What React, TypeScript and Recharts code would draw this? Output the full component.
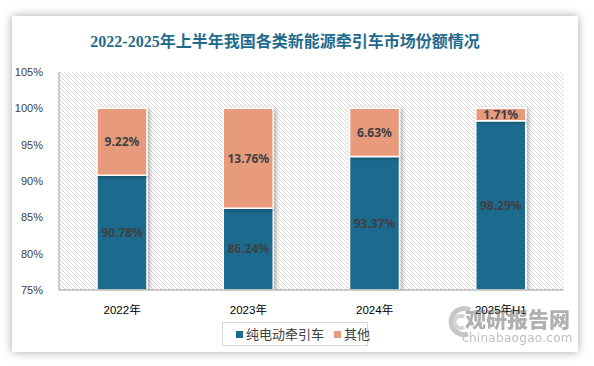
import React from 'react';
import { BarChart, Bar, XAxis, YAxis, CartesianGrid, LabelList } from 'recharts';

const categories = ['2022年', '2023年', '2024年', '2025年H1'];
const electricShare = [90.78, 86.24, 93.37, 98.29];
const otherShare = [9.22, 13.76, 6.63, 1.71];
const yTicks = [75, 80, 85, 90, 95, 100, 105];
const boundaryTicks = [0, 1, 2, 3, 4];
const seriesNames = ['纯电动牵引车', '其他'];
const seriesColors = ['#1c6b8e', '#e89b7b'];
const titleText = '2022-2025年上半年我国各类新能源牵引车市场份额情况';

const data = categories.map((c, i) => ({
  name: c,
  electric: electricShare[i],
  other: otherShare[i],
}));

const fmt = (v: any) => `${Number(v).toFixed(2)}%`;

const labelStyle = {
  fill: '#404040',
  fontSize: 12,
  fontWeight: 700,
  fontFamily: '"Noto Sans", sans-serif',
};

export default function App() {
  return (
    <div style={{ position: 'absolute', left: 0, top: 0, width: 594, height: 366, background: '#fff', overflow: 'hidden' }}>
      <svg width={0} height={0} style={{ position: 'absolute' }}>
        <defs>
          <pattern id="hatch" patternUnits="userSpaceOnUse" width={4} height={4}>
            <rect width={4} height={4} fill="#ffffff" />
            <path d="M-1,-1 L5,5 M3,-1 L5,1 M-1,3 L1,5" stroke="#d4d4d4" strokeWidth={0.9} />
          </pattern>
          <filter id="barShadow" x="-20%" y="-20%" width="150%" height="150%">
            <feDropShadow dx={2} dy={1} stdDeviation={2} floodColor="#000" floodOpacity={0.3} />
          </filter>
        </defs>
      </svg>
      <div
        style={{
          position: 'absolute',
          left: 12,
          top: 16,
          width: 566,
          height: 336,
          background: '#fff',
          boxShadow: '0 0 9px rgba(0,0,0,0.35)',
        }}
      />
      <div
        style={{
          position: 'absolute',
          left: 0,
          width: 570,
          top: 31,
          textAlign: 'center',
          fontFamily: '"Liberation Serif", "Noto Sans CJK SC", serif',
          fontWeight: 700,
          fontSize: 16,
          color: '#1f6b8e',
          lineHeight: '22px',
          whiteSpace: 'nowrap',
        }}
      >
        {titleText}
      </div>
      <div style={{ position: 'absolute', left: 0, top: 0 }}>
        <BarChart
          width={594}
          height={366}
          data={data}
          margin={{ top: 72, right: 30, bottom: 46, left: 14 }}
          barCategoryGap={0}
        >
          <CartesianGrid horizontal={false} vertical={false} fill="url(#hatch)" fillOpacity={1} />
          <XAxis
            xAxisId="grid"
            type="number"
            domain={[0, 4]}
            ticks={boundaryTicks}
            height={0}
            axisLine={false}
            tickLine={{ stroke: '#999999' }}
            tickSize={5}
            tickFormatter={() => ''}
          />
          <XAxis
            dataKey="name"
            height={30}
            axisLine={{ stroke: '#999999' }}
            tickLine={false}
            tick={{ fill: '#000000', fontSize: 11.5, fontFamily: '"Liberation Sans", "Noto Sans CJK SC", sans-serif' }}
            tickMargin={10}
          />
          <YAxis
            width={45}
            type="number"
            domain={[75, 105]}
            ticks={yTicks}
            allowDataOverflow
            axisLine={{ stroke: '#999999' }}
            tickLine={false}
            tickMargin={10}
            tick={{ fill: '#404040', fontSize: 11, fontFamily: '"Liberation Sans", sans-serif' }}
            tickFormatter={(v: number) => `${v}%`}
          />
          <Bar
            dataKey="electric"
            stackId="s"
            fill={seriesColors[0]}
            stroke="#ffffff"
            strokeWidth={1.5}
            barSize={50}
            filter="url(#barShadow)"
            isAnimationActive={false}
          >
            <LabelList dataKey="electric" position="center" formatter={fmt} style={labelStyle} />
          </Bar>
          <Bar
            dataKey="other"
            stackId="s"
            fill={seriesColors[1]}
            stroke="#ffffff"
            strokeWidth={1.5}
            barSize={50}
            filter="url(#barShadow)"
            isAnimationActive={false}
          >
            <LabelList dataKey="other" position="center" formatter={fmt} style={labelStyle} />
          </Bar>
        </BarChart>
      </div>
      <div
        style={{
          position: 'absolute',
          left: 222,
          top: 322,
          width: 144,
          height: 22,
          border: '1px solid #d9d9d9',
          background: '#fff',
          display: 'flex',
          alignItems: 'center',
          fontFamily: '"Noto Sans CJK SC", sans-serif',
          fontSize: 13,
          color: '#404040',
          boxSizing: 'content-box',
          whiteSpace: 'nowrap',
        }}
      >
        {seriesNames.map((n, i) => (
          <div key={n} style={{ display: 'flex', alignItems: 'center', flexShrink: 0, marginLeft: i === 0 ? 13 : 10 }}>
            <span style={{ display: 'inline-block', width: 7, height: 7, background: seriesColors[i], marginRight: 3, flexShrink: 0 }} />
            <span style={{ lineHeight: '16px', whiteSpace: 'nowrap' }}>{n}</span>
          </div>
        ))}
      </div>
      <div style={{ position: 'absolute', left: 440, top: 302, width: 140, height: 46, opacity: 0.55, pointerEvents: 'none' }}>
        <svg width={30} height={36} style={{ position: 'absolute', left: 4, top: 2 }}>
          <path d="M26,6 A13,13 0 1,0 24,30" stroke="#9a9a9a" strokeWidth={5} fill="none" />
          <path d="M20,13 A6,6 0 1,0 20,23" stroke="#b0b0b0" strokeWidth={4} fill="none" />
        </svg>
        <div
          style={{
            position: 'absolute',
            left: 25,
            top: 6,
            fontFamily: '"Noto Sans CJK SC", sans-serif',
            fontWeight: 900,
            fontSize: 21,
            lineHeight: '21px',
            color: '#707070',
          }}
        >
          观研报告网
        </div>
        <div
          style={{
            position: 'absolute',
            left: 22,
            top: 30,
            fontFamily: '"DejaVu Sans", sans-serif',
            fontSize: 12,
            lineHeight: '12px',
            color: '#8a8a8a',
            letterSpacing: 0.3,
          }}
        >
          chinabaogao.com
        </div>
      </div>
    </div>
  );
}
